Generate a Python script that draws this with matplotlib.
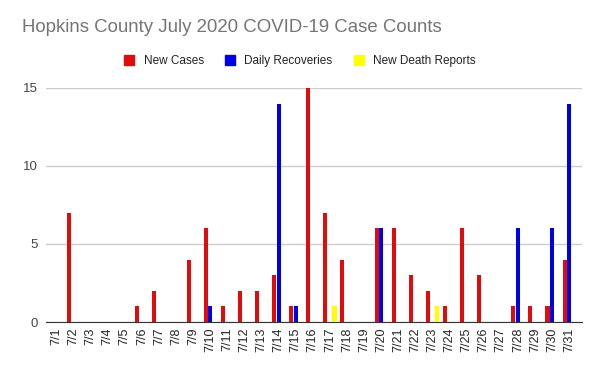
import numpy as np
import matplotlib.pyplot as plt
from matplotlib.patches import Patch

plt.rcParams['font.family'] = ['Liberation Sans', 'DejaVu Sans']

days = ['7/%d' % d for d in range(1, 32)]
new_cases = [0, 7, 0, 0, 0, 1, 2, 0, 4, 6, 1, 2, 2, 3, 1, 15,
             7, 4, 0, 6, 6, 3, 2, 1, 6, 3, 0, 1, 1, 1, 4]
recoveries = [0, 0, 0, 0, 0, 0, 0, 0, 0, 1, 0, 0, 0, 14, 1, 0,
              0, 0, 0, 6, 0, 0, 0, 0, 0, 0, 0, 6, 0, 6, 14]
deaths = [0, 0, 0, 0, 0, 0, 0, 0, 0, 0, 0, 0, 0, 0, 0, 0,
          1, 0, 0, 0, 0, 0, 1, 0, 0, 0, 0, 0, 0, 0, 0]

series = [('New Cases', new_cases, '#e00b0b'),
          ('Daily Recoveries', recoveries, '#0000e6'),
          ('New Death Reports', deaths, '#ffff00')]

fig = plt.figure(figsize=(6, 3.71), dpi=100)
ax = fig.add_axes([0.077, 0.132, 0.893, 0.631])

x = np.arange(len(days))
w = 0.24
for i, (name, vals, col) in enumerate(series):
    ax.bar(x + (i - 1) * 0.27, vals, width=w, color=col, zorder=3)

ax.set_xlim(-0.6, 30.75)
ax.set_ylim(0, 15)
ax.set_yticks([0, 5, 10, 15])
ax.yaxis.grid(True, color='#cccccc', linewidth=1)
ax.set_xticks(x)
ax.set_xticklabels(days, rotation=90, fontsize=9, color='#222222')
ax.tick_params(axis='y', labelsize=9.5, colors='#444444', length=0, pad=6)
ax.tick_params(axis='x', length=0, pad=4)
for s in ['top', 'right', 'left']:
    ax.spines[s].set_visible(False)
ax.spines['bottom'].set_color('#333333')

fig.text(0.036, 0.915, 'Hopkins County July 2020 COVID-19 Case Counts',
         fontsize=13.4, color='#757575')

handles = [Patch(color=c, label=n) for n, v, c in series]
fig.legend(handles=handles, loc='center', bbox_to_anchor=(0.5, 0.835), ncol=3,
           frameon=False, fontsize=8.5, handlelength=0.85, handleheight=0.85,
           columnspacing=1.8, handletextpad=0.8, labelcolor='#222222')

fig.savefig('out.png', dpi=100)
